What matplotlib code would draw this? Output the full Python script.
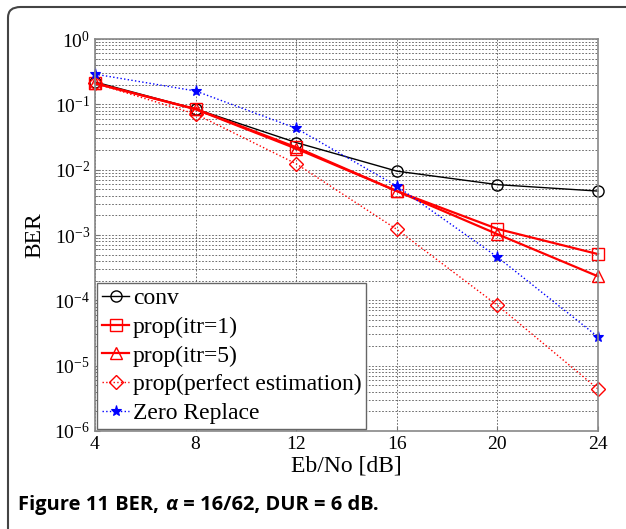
import math
import matplotlib
matplotlib.use('Agg')
import matplotlib.pyplot as plt
from matplotlib.patches import FancyBboxPatch
from matplotlib.ticker import FixedLocator, LogLocator, FuncFormatter, NullFormatter

plt.rcParams['font.family'] = ['Liberation Serif', 'DejaVu Serif']
plt.rcParams['mathtext.fontset'] = 'custom'
plt.rcParams['mathtext.rm'] = 'Liberation Serif'
plt.rcParams['mathtext.it'] = 'Liberation Serif:italic'

# Eb/No values and BER
ebno = [4, 8, 12, 16, 20, 24]
ber_conv = [0.22, 0.085, 0.026, 0.0095, 0.0059, 0.0047]
ber_itr1 = [0.21, 0.085, 0.022, 0.0047, 0.00124, 0.00051]
ber_itr5 = [0.21, 0.084, 0.021, 0.0047, 0.00103, 0.000233]
ber_perfect = [0.21, 0.071, 0.0123, 0.00122, 8.4e-5, 4.4e-6]
ber_zero = [0.29, 0.16, 0.043, 0.0056, 0.00046, 2.76e-5]

labels = ["conv", "prop(itr=1)", "prop(itr=5)",
          "prop(perfect estimation)", "Zero Replace"]
xticks = [4, 8, 12, 16, 20, 24]
caption = ["Figure 11", " BER, ", "\u03b1", " = 16/62, DUR = 6 dB."]

fig = plt.figure(figsize=(6.26, 5.29), dpi=100)
ax = fig.add_axes([95 / 626, 1 - 431 / 529, (598 - 95) / 626, (431 - 39) / 529])

kw = dict(clip_on=False, mfc='none', mew=1.0)
ax.semilogy(ebno, ber_conv, '-', color='black', lw=1.0, marker='o',
            ms=8, label=labels[0], **kw)
ax.semilogy(ebno, ber_itr1, '-', color='red', lw=1.6, marker='s',
            ms=8, label=labels[1], **kw)
ax.semilogy(ebno, ber_itr5, '-', color='red', lw=1.6, marker='^',
            ms=8, label=labels[2], **kw)
ax.semilogy(ebno, ber_perfect, ':', color='red', lw=1.0, marker='D',
            ms=7, label=labels[3], **kw)
ax.semilogy(ebno, ber_zero, ':', color='blue', lw=1.0, marker='*',
            ms=8, mew=0.8, label=labels[4], clip_on=False)

ax.set_xlim(4, 24)
ax.set_ylim(1e-6, 1)
ax.xaxis.set_major_locator(FixedLocator(xticks))
ax.yaxis.set_major_locator(LogLocator(base=10, numticks=10))
ax.yaxis.set_minor_locator(LogLocator(base=10, subs=range(2, 10), numticks=20))
ax.yaxis.set_minor_formatter(NullFormatter())
ax.yaxis.set_major_formatter(FuncFormatter(
    lambda v, p: r'$10^{%d}$' % round(math.log10(v))))

ax.grid(True, which='major', ls=(0, (2, 2)), color='#555555', lw=0.6)
ax.grid(True, which='minor', axis='y', ls=(0, (2, 2)), color='#555555', lw=0.6)
ax.tick_params(which='both', direction='in', labelsize=14, color='#777777')
ax.tick_params(which='minor', length=2)
for s in ax.spines.values():
    s.set_color('#888888')
    s.set_linewidth(1.2)

ax.set_xlabel('Eb/No [dB]', fontsize=17, labelpad=2)
ax.set_ylabel('BER', fontsize=17, labelpad=6)

leg = ax.legend(loc='lower left', fontsize=17, fancybox=False,
                edgecolor='#666666', framealpha=1, borderaxespad=0.1,
                handlelength=1.15, handletextpad=0.15, labelspacing=0.3,
                borderpad=0.2)
leg.get_frame().set_linewidth(1.0)

# card border around the figure, cut by the right and bottom edges
card = FancyBboxPatch((8 / 626, -0.05), 1.1, 1 - 7 / 529 + 0.05,
                      boxstyle='round,pad=0,rounding_size=0.02',
                      transform=fig.transFigure, fill=False,
                      edgecolor='#444444', lw=1.5, clip_on=False)
fig.patches.append(card)

# caption laid out piece by piece (alpha in italic)
renderer = fig.canvas.get_renderer()
x = 18 / 626
for i, part in enumerate(caption):
    t = fig.text(x, 1 - 505 / 529, part, fontsize=14.5, fontweight='bold',
                 style='italic' if i == 2 else 'normal',
                 family=['Open Sans', 'DejaVu Sans'], va='center', ha='left')
    bb = t.get_window_extent(renderer)
    x += bb.width / fig.bbox.width + 1 / 626

fig.savefig('out.png', dpi=100)
